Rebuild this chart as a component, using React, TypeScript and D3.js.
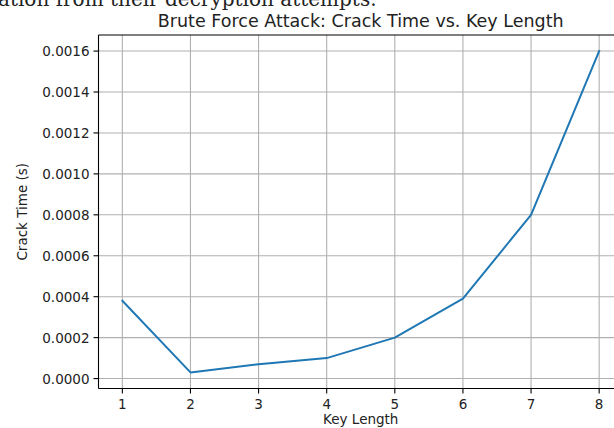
import React from "react";
import * as d3 from "d3";

const keyLengths = [1, 2, 3, 4, 5, 6, 7, 8];
const crackTimes = [0.00038, 0.00003, 0.00007, 0.0001, 0.0002, 0.00039, 0.0008, 0.0016];
const yTicks = [0, 0.0002, 0.0004, 0.0006, 0.0008, 0.001, 0.0012, 0.0014, 0.0016];
const xTicks = [1, 2, 3, 4, 5, 6, 7, 8];

const W = 614;
const H = 428;
const left = 98.5;
const right = 623;
const top = 35;
const bottom = 388.5;

export default function App() {
  const x = d3.scaleLinear().domain([0.65, 8.35]).range([left, right]);
  const yMin = d3.min(crackTimes)!;
  const yMax = d3.max(crackTimes)!;
  const pad = (yMax - yMin) * 0.05;
  const y = d3.scaleLinear().domain([yMin - pad, yMax + pad]).range([bottom, top]);
  const line = d3
    .line<number>()
    .x((_, i) => x(keyLengths[i]))
    .y((d) => y(d));
  const font = "'DejaVu Sans', sans-serif";
  return (
    <svg
      width={W}
      height={H}
      style={{ position: "absolute", left: 0, top: 0, background: "#fff" }}
    >
      <text
        x={-2}
        y={6}
        fontFamily="'DejaVu Serif', serif"
        fontSize={20}
        fill="#222"
      >
        ation from their decryption attempts.
      </text>
      <text x={(left + right) / 2} y={27} textAnchor="middle" fontFamily={font} fontSize={17.5} fill="#222">
        Brute Force Attack: Crack Time vs. Key Length
      </text>
      <g>
        {xTicks.map((t) => (
          <line key={"gx" + t} x1={x(t)} x2={x(t)} y1={top} y2={bottom} stroke="#b0b0b0" strokeWidth={1.1} />
        ))}
        {yTicks.map((t) => (
          <line key={"gy" + t} x1={left} x2={right} y1={y(t)} y2={y(t)} stroke="#b0b0b0" strokeWidth={1.1} />
        ))}
      </g>
      <path d={line(crackTimes)!} fill="none" stroke="#1f77b4" strokeWidth={2} strokeLinejoin="round" strokeLinecap="square" />
      <g>
        <line x1={left} x2={left} y1={top} y2={bottom} stroke="#000" strokeWidth={1.1} />
        <line x1={left} x2={right} y1={bottom} y2={bottom} stroke="#000" strokeWidth={1.1} />
        <line x1={left} x2={right} y1={top} y2={top} stroke="#000" strokeWidth={1.1} />
      </g>
      {xTicks.map((t) => (
        <g key={"tx" + t}>
          <line x1={x(t)} x2={x(t)} y1={bottom} y2={bottom + 5} stroke="#000" strokeWidth={1.1} />
          <text x={x(t)} y={bottom + 20} textAnchor="middle" fontFamily={font} fontSize={13.5} fill="#222">
            {t}
          </text>
        </g>
      ))}
      {yTicks.map((t) => (
        <g key={"ty" + t}>
          <line x1={left - 5} x2={left} y1={y(t)} y2={y(t)} stroke="#000" strokeWidth={1.1} />
          <text x={left - 9} y={y(t) + 5} textAnchor="end" fontFamily={font} fontSize={13.5} fill="#222">
            {t.toFixed(4)}
          </text>
        </g>
      ))}
      <text x={(left + right) / 2} y={424} textAnchor="middle" fontFamily={font} fontSize={13.5} fill="#222">
        Key Length
      </text>
      <text
        transform={`translate(27, ${(top + bottom) / 2}) rotate(-90)`}
        textAnchor="middle"
        fontFamily={font}
        fontSize={13.5}
        fill="#222"
      >
        Crack Time (s)
      </text>
    </svg>
  );
}
